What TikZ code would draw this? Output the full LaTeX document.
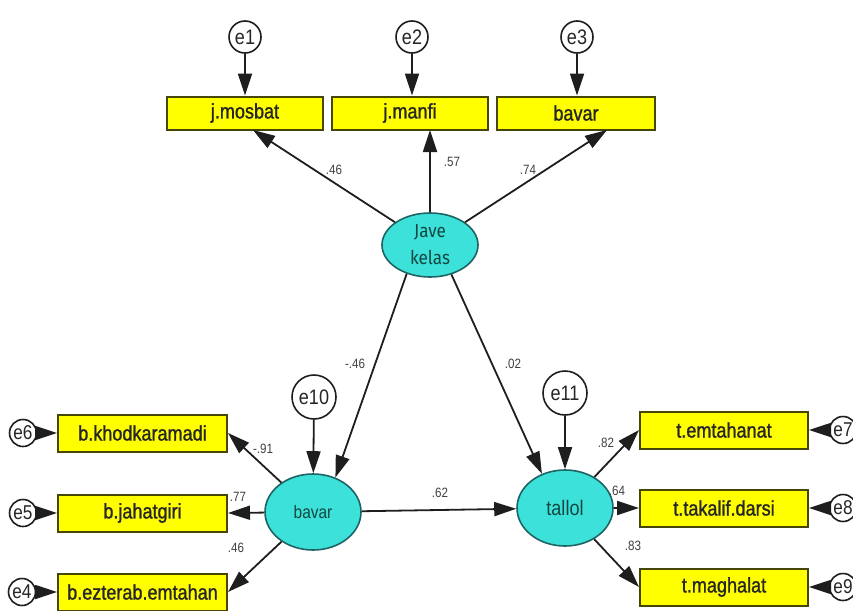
\documentclass[tikz,border=0pt]{standalone}
\usepackage{fontspec}
\setmainfont{Liberation Sans}[FakeStretch=0.86]
\newfontfamily\boxfont{Liberation Sans}[FakeStretch=0.86,FakeBold=1.2]
\newfontfamily\jfont{Fira Sans}[FakeStretch=0.9]
\usetikzlibrary{arrows.meta,shapes.geometric}
\definecolor{boxfill}{RGB}{255,255,0}
\definecolor{boxline}{RGB}{70,70,10}
\definecolor{latfill}{RGB}{60,226,218}
\definecolor{latline}{RGB}{30,100,100}
\definecolor{lattext}{RGB}{20,70,65}
\definecolor{lnc}{RGB}{30,30,30}
\tikzset{
  obs/.style={draw=boxline, fill=boxfill, line width=2pt, minimum height=33pt, inner sep=0pt,
    text=black!85, font=\boxfont\fontsize{21}{22}\selectfont},
  lat/.style={ellipse, draw=latline, fill=latfill, line width=1.6pt, minimum width=96pt, inner sep=0pt,
    text=lattext, align=center},
  err/.style={circle, draw=lnc, fill=white, line width=1.6pt, inner sep=0pt, minimum size=32pt,
    text=black!85, font=\fontsize{21}{22}\selectfont},
  errb/.style={err, minimum size=44pt},
  errs/.style={err, minimum size=27pt, font=\fontsize{20}{20}\selectfont},
  arr/.style={draw=lnc, line width=1.8pt, -{Triangle[length=22pt,width=14pt]}},
  coef/.style={inner sep=0pt, font=\fontsize{13.5}{14}\selectfont, text=black!75},
}
\begin{document}
\begin{tikzpicture}[x=1pt,y=-1pt]
\useasboundingbox (0,0) rectangle (853,610);
% observed top
\node[obs, minimum width=156pt] (jm) at (245,113) {j.mosbat};
\node[obs, minimum width=156pt] (jn) at (410,113) {j.manfi};
\node[obs, minimum width=158pt] (bb) at (576,113) {bavar};
% errors top
\node[err] (e1) at (245,37) {e1};
\node[err] (e2) at (412,37) {e2};
\node[err] (e3) at (577,37) {e3};
% latent
\node[lat, minimum height=64pt, font=\jfont\fontsize{19}{27}\selectfont] (jk) at (430,245) {Jave\\kelas};
\node[lat, minimum height=76pt, font=\fontsize{18}{18}\selectfont] (bv) at (313,512) {bavar};
\node[lat, minimum height=76pt, font=\fontsize{21}{20}\selectfont] (tl) at (565,508) {tallol};
% left boxes
\node[obs, minimum width=169pt, minimum height=37pt] (kh) at (142.5,433) {b.khodkaramadi};
\node[obs, minimum width=169pt, minimum height=37pt] (jh) at (142.5,513) {b.jahatgiri};
\node[obs, minimum width=169pt, minimum height=37pt] (ez) at (142.5,592) {b.ezterab.emtahan};
% right boxes
\node[obs, minimum width=168pt, minimum height=37pt] (te) at (724,430) {t.emtahanat};
\node[obs, minimum width=168pt, minimum height=37pt] (tt) at (724,508) {t.takalif.darsi};
\node[obs, minimum width=168pt, minimum height=37pt] (tm) at (724,587) {t.maghalat};
% errors
\node[errb] (e10) at (314,397) {e10};
\node[errb] (e11) at (565,393) {e11};
\node[errs] (e6) at (23,433) {e6};
\node[errs] (e5) at (23,513) {e5};
\node[errs] (e4) at (22,592) {e4};
\node[errs] (e7) at (843,430) {e7};
\node[errs] (e8) at (843,508) {e8};
\node[errs] (e9) at (843,587) {e9};
% tip coordinates
\coordinate (jmt) at (253,130);
\coordinate (jnt) at (430,130);
\coordinate (bbt) at (607,130);
% error arrows
\draw[arr] (e1) -- (e1 |- jm.north);
\draw[arr] (e2) -- (e2 |- jn.north);
\draw[arr] (e3) -- (e3 |- bb.north);
\draw[arr] (e10) -- (bv);
\draw[arr] (e11) -- (tl);
\draw[arr] (e6) -- (kh);
\draw[arr] (e5) -- (jh);
\draw[arr] (e4) -- (ez);
\draw[arr] (e7) -- (te);
\draw[arr] (e8) -- (tt);
\draw[arr] (e9) -- (tm);
% structural
\draw[arr] (jk) -- (jmt);
\draw[arr] (jk) -- (jnt);
\draw[arr] (jk) -- (bbt);
\draw[arr] (jk.231) -- (bv.57);
\draw[arr] (jk.306) -- (tl.124);
\draw[arr] (bv) -- (tl);
\draw[arr] (bv) -- (kh.east);
\draw[arr] (bv) -- (jh.east);
\draw[arr] (bv) -- (ez.east);
\draw[arr] (tl) -- (te.west);
\draw[arr] (tl) -- (tt.west);
\draw[arr] (tl) -- (tm.west);
% coefficients
\node[coef] (c1) at (334,170) {.46};
\node[coef] (c2) at (452,162) {.57};
\node[coef] (c3) at (528,170) {.74};
\node[coef] (c4) at (355,364) {-.46};
\node[coef] (c5) at (513,364) {.02};
\node[coef] (c6) at (440,493) {.62};
\node[coef] (c7) at (263,449) {-.91};
\node[coef] (c8) at (238,497) {.77};
\node[coef] (c9) at (236,548) {.46};
\node[coef] (c10) at (606,443) {.82};
\node[coef] (c11) at (617,491) {.64};
\node[coef] (c12) at (633,546) {.83};
\end{tikzpicture}
\end{document}
